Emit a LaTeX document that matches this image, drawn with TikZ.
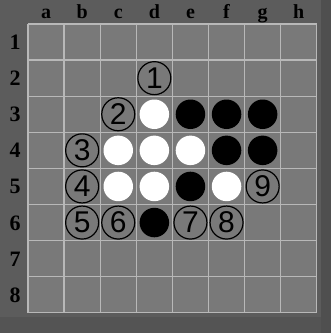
\documentclass[tikz,border=0pt]{standalone}
\usepackage{fontspec}
\setmainfont{Liberation Serif}
\newfontfamily\digitfont{Liberation Sans}
\definecolor{bgc}{HTML}{5C5C5C}
\definecolor{bandc}{HTML}{4F4F4F}
\definecolor{cellc}{HTML}{797979}
\definecolor{gridc}{HTML}{B8B8B8}
\tikzset{
  coordlabel/.style={anchor=base, inner sep=0pt, text=black, font=\fontsize{20}{20}\selectfont\bfseries},
  rowlabel/.style={anchor=base, inner sep=0pt, text=black, font=\fontsize{22}{22}\selectfont\bfseries},
  wdisc/.style={circle, fill=white, minimum size=29.5pt, inner sep=0pt},
  bdisc/.style={circle, fill=black, minimum size=29.5pt, inner sep=0pt},
  numc/.style={circle, draw=black, line width=1.2pt, minimum size=33pt, inner sep=0pt, text=black, font=\digitfont\fontsize{30}{30}\selectfont},
}
\begin{document}
\begin{tikzpicture}[x=1pt,y=-1pt]
\useasboundingbox (0,0) rectangle (331,333);
\fill[bgc] (0,0) rectangle (331,333);
\fill[bandc] (321,0) rectangle (331,333);
\fill[bandc!60!bgc] (0,317) rectangle (321,333);
\fill[cellc] (28,24) rectangle (316.8,312.8);
\foreach \i in {0,...,8} {
  \draw[gridc, line width=1.3pt] ({28+36.1*\i},24) -- ({28+36.1*\i},312.8);
  \draw[gridc, line width=1.3pt] (28,{24+36.1*\i}) -- (316.8,{24+36.1*\i});
}
\foreach \l [count=\c] in {a,b,c,d,e,f,g,h}
  \node[coordlabel] (col\l) at ({28+36.1*(\c-0.5)},18.5) {\l};
\foreach \r in {1,...,8}
  \node[rowlabel] (row\r) at (15,{24+36.1*(\r-0.5)+7.5}) {\r};
% discs
\foreach \c/\r/\nm in {4/3/d3,3/4/c4,4/4/d4,5/4/e4,3/5/c5,4/5/d5,6/5/f5}
  \node[wdisc] (\nm) at ({28+36.1*(\c-0.5)},{24+36.1*(\r-0.5)}) {};
\foreach \c/\r/\nm in {5/3/e3,6/3/f3,7/3/g3,6/4/f4,7/4/g4,5/5/e5,4/6/d6}
  \node[bdisc] (\nm) at ({28+36.1*(\c-0.5)},{24+36.1*(\r-0.5)}) {};
% numbered moves
\foreach \c/\r/\n in {4/2/1,3/3/2,2/4/3,2/5/4,2/6/5,3/6/6,5/6/7,6/6/8,7/5/9}
  \node[numc] (m\n) at ({28+36.1*(\c-0.5)},{24+36.1*(\r-0.5)}) {\n};
\end{tikzpicture}
\end{document}
